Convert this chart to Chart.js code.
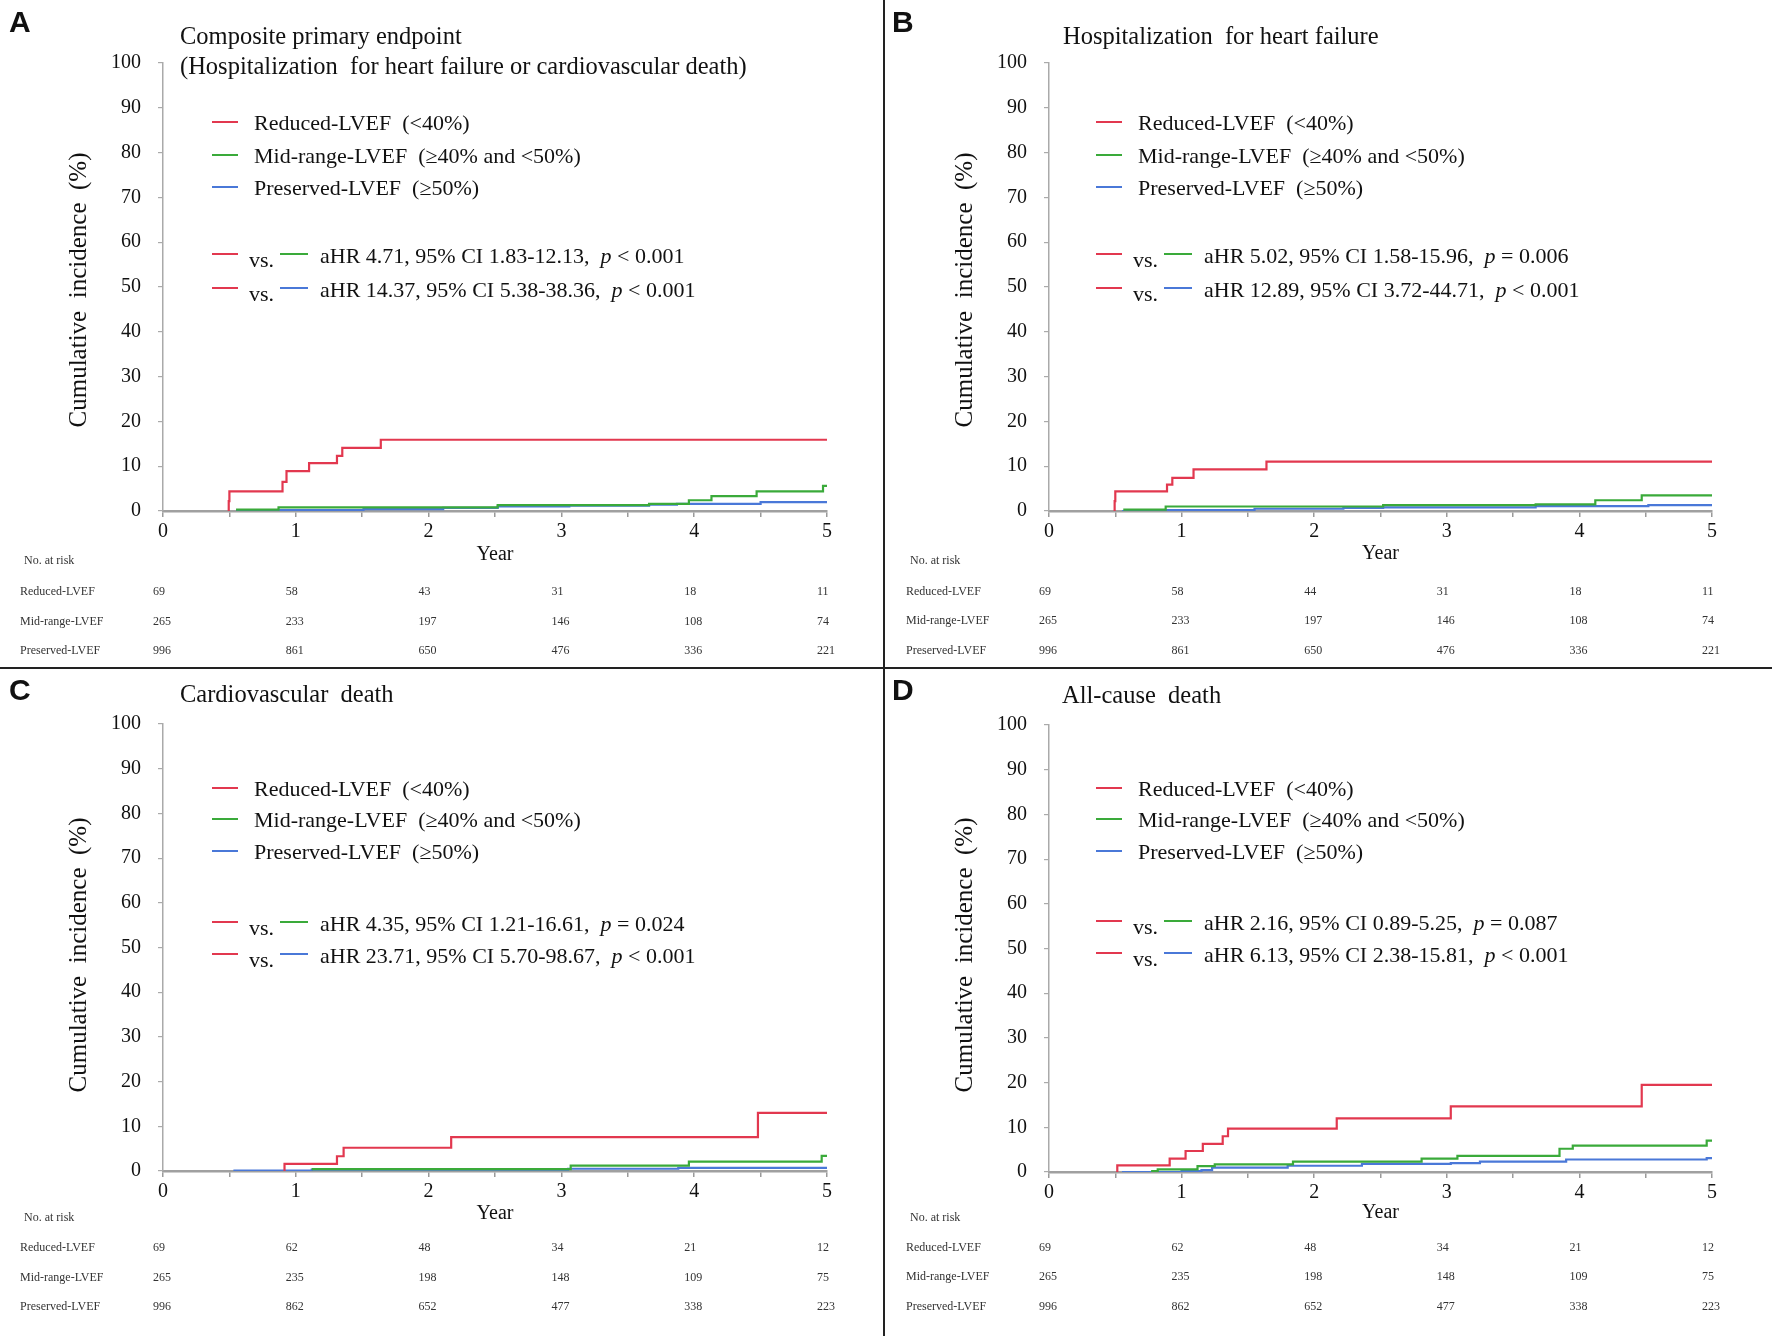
<!DOCTYPE html>
<html>
<head>
<meta charset="utf-8">
<script src="https://cdn.jsdelivr.net/npm/chart.js@4"></script>
<style>
  body { margin: 0; background: #fff; }
  #page { position: relative; width: 1772px; height: 1336px; background: #fff; overflow: hidden; }
  canvas { position: absolute; }
  .vline { position: absolute; left: 883px; top: 0; width: 2px; height: 1336px; background: #222; }
  .hline { position: absolute; left: 0; top: 667px; width: 1772px; height: 2px; background: #222; }
</style>
</head>
<body>
<div id="page">
  <canvas id="chartA" width="886" height="668" style="left:0;top:0"></canvas>
  <canvas id="chartB" width="886" height="668" style="left:886px;top:0"></canvas>
  <canvas id="chartC" width="886" height="668" style="left:0;top:668px"></canvas>
  <canvas id="chartD" width="886" height="668" style="left:886px;top:668px"></canvas>
  <div class="vline"></div>
  <div class="hline"></div>
</div>
<script>
// curve data: event times (years) and cumulative incidence (%)
const aRedT  = [0.49, 0.495, 0.50, 0.90, 0.93, 1.10, 1.31, 1.35, 1.64, 5.0];
const aRedY  = [0, 2.2, 4.4, 6.5, 8.9, 10.7, 12.3, 14.1, 15.9, 15.9];
const aMidT  = [0.55, 0.87, 2.52, 3.66, 3.96, 4.13, 4.47, 4.97, 5.0];
const aMidY  = [0.3, 0.8, 1.3, 1.6, 2.4, 3.3, 4.4, 5.6, 5.6];
const aPresT = [0.55, 0.73, 1.51, 2.11, 2.52, 3.06, 3.66, 3.87, 4.50, 5.0];
const aPresY = [0, 0.2, 0.4, 0.7, 1.0, 1.2, 1.4, 1.6, 2.0, 2.0];

const bRedT  = [0.49, 0.495, 0.50, 0.89, 0.93, 1.09, 1.64, 5.0];
const bRedY  = [0, 2.2, 4.4, 5.9, 7.4, 9.3, 11.0, 11.0];
const bMidT  = [0.56, 0.88, 2.52, 3.67, 4.12, 4.47, 5.0];
const bMidY  = [0.3, 1.0, 1.3, 1.5, 2.4, 3.5, 3.5];
const bPresT = [0.55, 0.88, 1.55, 2.22, 2.52, 3.67, 4.52, 5.0];
const bPresY = [0, 0.2, 0.5, 0.7, 0.8, 1.1, 1.3, 1.3];

const cRedT  = [0.91, 0.915, 1.31, 1.36, 2.17, 4.48, 5.0];
const cRedY  = [0, 1.6, 3.3, 5.2, 7.6, 13.0, 13.0];
const cMidT  = [1.12, 3.07, 3.96, 4.96, 5.0];
const cMidY  = [0.4, 1.2, 2.1, 3.4, 3.4];
const cPresT = [0.53, 1.12, 3.05, 3.88, 5.0];
const cPresY = [0.1, 0.3, 0.5, 0.7, 0.7];

const dRedT  = [0.51, 0.515, 0.91, 1.03, 1.16, 1.31, 1.35, 2.17, 3.03, 4.47, 5.0];
const dRedY  = [0, 1.5, 3.0, 4.7, 6.3, 8.0, 9.7, 12.0, 14.7, 19.5, 19.5];
const dMidT  = [0.77, 0.82, 1.12, 1.25, 1.84, 2.81, 3.08, 3.85, 3.95, 4.96, 5.0];
const dMidY  = [0.2, 0.6, 1.3, 1.7, 2.3, 3.0, 3.6, 5.2, 5.9, 7.0, 7.0];
const dPresT = [0.55, 1.0, 1.15, 1.23, 1.80, 2.36, 3.03, 3.25, 3.90, 4.96, 5.0];
const dPresY = [0, 0.2, 0.4, 1.0, 1.4, 1.8, 2.0, 2.3, 2.8, 3.1, 3.1];

// number at risk
const riskYears   = [0, 1, 2, 3, 4, 5];
const riskGroups  = ['Reduced-LVEF', 'Mid-range-LVEF', 'Preserved-LVEF'];
const aRiskRed    = [69, 58, 43, 31, 18, 11];
const bRiskRed    = [69, 58, 44, 31, 18, 11];
const abRiskMid   = [265, 233, 197, 146, 108, 74];
const abRiskPres  = [996, 861, 650, 476, 336, 221];
const cdRiskRed   = [69, 62, 48, 34, 21, 12];
const cdRiskMid   = [265, 235, 198, 148, 109, 75];
const cdRiskPres  = [996, 862, 652, 477, 338, 223];

// labels
const legendLabels = ['Reduced-LVEF  (<40%)', 'Mid-range-LVEF  (\u226540% and <50%)', 'Preserved-LVEF  (\u226550%)'];
const aHR = [['aHR 4.71, 95% CI 1.83-12.13,  ', ' < 0.001'], ['aHR 14.37, 95% CI 5.38-38.36,  ', ' < 0.001']];
const bHR = [['aHR 5.02, 95% CI 1.58-15.96,  ', ' = 0.006'], ['aHR 12.89, 95% CI 3.72-44.71,  ', ' < 0.001']];
const cHR = [['aHR 4.35, 95% CI 1.21-16.61,  ', ' = 0.024'], ['aHR 23.71, 95% CI 5.70-98.67,  ', ' < 0.001']];
const dHR = [['aHR 2.16, 95% CI 0.89-5.25,  ', ' = 0.087'], ['aHR 6.13, 95% CI 2.38-15.81,  ', ' < 0.001']];

const RED = '#e2384f', GREEN = '#3aaa3a', BLUE = '#4a78d8';
const SERIF = '"Liberation Serif", "Times New Roman", serif';
const W = 886, H = 668;

function pts(ts, ys) {
  return ts.map((t, i) => ({ x: t, y: ys[i] }));
}

// draws titles, legend, HR lines, axis titles and risk table
const decor = {
  id: 'decor',
  afterDraw(chart, args, o) {
    const ctx = chart.ctx;
    const area = chart.chartArea;
    ctx.save();
    ctx.fillStyle = '#111';

    // panel letter
    ctx.font = 'bold 30px "Liberation Sans", Arial, sans-serif';
    ctx.textBaseline = 'alphabetic';
    ctx.fillText(o.letter, o.letterX, 32);
    ctx.textBaseline = 'middle';

    // title
    ctx.font = '24.5px ' + SERIF;
    o.title.forEach((t, i) => ctx.fillText(t, o.titleX, o.titleY[i]));

    // legend
    ctx.font = '22px ' + SERIF;
    const cols = [RED, GREEN, BLUE];
    legendLabels.forEach((lab, i) => {
      const y = o.legendY[i];
      ctx.strokeStyle = cols[i];
      ctx.lineWidth = 2;
      ctx.beginPath();
      ctx.moveTo(o.legX, y - 2);
      ctx.lineTo(o.legX + 26, y - 2);
      ctx.stroke();
      ctx.fillText(lab, o.legX + 42, y);
    });

    // hazard ratio lines
    o.hr.forEach((h, i) => {
      const y = o.hrY[i];
      ctx.lineWidth = 2;
      ctx.strokeStyle = RED;
      ctx.beginPath(); ctx.moveTo(o.legX, y - 3); ctx.lineTo(o.legX + 26, y - 3); ctx.stroke();
      ctx.font = '22px ' + SERIF;
      ctx.fillText('vs.', o.legX + 37, y + 4);
      ctx.strokeStyle = i === 0 ? GREEN : BLUE;
      ctx.beginPath(); ctx.moveTo(o.legX + 68, y - 3); ctx.lineTo(o.legX + 96, y - 3); ctx.stroke();
      let x = o.legX + 108;
      ctx.fillText(h[0], x, y);
      x += ctx.measureText(h[0]).width;
      ctx.font = 'italic 22px ' + SERIF;
      ctx.fillText('p', x, y);
      x += ctx.measureText('p').width;
      ctx.font = '22px ' + SERIF;
      ctx.fillText(h[1], x, y);
    });

    // y axis title
    ctx.save();
    ctx.font = '25px ' + SERIF;
    ctx.translate(79, o.yTitleY);
    ctx.rotate(-Math.PI / 2);
    ctx.textAlign = 'center';
    ctx.fillText('Cumulative  incidence  (%)', 0, 0);
    ctx.restore();

    // x axis title
    ctx.font = '20px ' + SERIF;
    ctx.textAlign = 'center';
    ctx.fillText('Year', (area.left + area.right) / 2, o.yearY);

    // risk table
    ctx.textAlign = 'left';
    ctx.font = '12px ' + SERIF;
    ctx.fillStyle = '#333';
    ctx.fillText('No. at risk', 24, o.riskY[0]);
    const xs = chart.scales.x;
    o.risk.forEach((row, r) => {
      const y = o.riskY[r + 1];
      ctx.fillText(riskGroups[r], 20, y);
      row.forEach((v, j) => ctx.fillText(String(v), xs.getPixelForValue(riskYears[j]) - 10, y));
    });
    ctx.restore();
  }
};

function makeChart(id, series, box, extra) {
  const xAxisH = 40;
  return new Chart(document.getElementById(id), {
    type: 'line',
    data: {
      datasets: [
        { data: pts(series[0], series[1]), borderColor: RED, borderWidth: 2.2, stepped: true, pointRadius: 0, fill: false },
        { data: pts(series[2], series[3]), borderColor: GREEN, borderWidth: 2.2, stepped: true, pointRadius: 0, fill: false },
        { data: pts(series[4], series[5]), borderColor: BLUE, borderWidth: 2.2, stepped: true, pointRadius: 0, fill: false }
      ]
    },
    options: {
      responsive: false,
      animation: false,
      layout: { padding: { left: 0, top: box.top, right: W - box.right, bottom: H - box.bottom - xAxisH } },
      plugins: { legend: { display: false }, tooltip: { enabled: false }, decor: extra },
      scales: {
        x: {
          type: 'linear', min: 0, max: 5,
          afterFit: s => { s.height = xAxisH; },
          ticks: {
            stepSize: 0.5, autoSkip: false, maxRotation: 0, padding: 3,
            color: '#111', font: { family: SERIF, size: 20 },
            callback: v => Number.isInteger(v) ? String(v) : ''
          },
          grid: { drawOnChartArea: false, tickLength: 6, color: '#9a9a9a', lineWidth: 1.5 },
          border: { color: '#a0a0a0', width: 2.5 }
        },
        y: {
          min: 0, max: 100,
          afterFit: s => { s.width = box.left; },
          ticks: { stepSize: 10, padding: 17, color: '#111', font: { family: SERIF, size: 20 } },
          grid: { drawOnChartArea: false, tickLength: 5, color: '#aaa', lineWidth: 1.2 },
          border: { color: '#aaa', width: 1.5 }
        }
      }
    },
    plugins: [decor]
  });
}

makeChart('chartA', [aRedT, aRedY, aMidT, aMidY, aPresT, aPresY],
  { left: 163, right: 827, top: 63, bottom: 511 },
  { letter: 'A', letterX: 9, title: ['Composite primary endpoint', '(Hospitalization  for heart failure or cardiovascular death)'],
    titleX: 180, titleY: [38, 68], legX: 212, legendY: [124, 157, 189], hr: aHR, hrY: [257, 291],
    yTitleY: 290, yearY: 555, riskY: [561, 592, 622, 651], risk: [aRiskRed, abRiskMid, abRiskPres] });

makeChart('chartB', [bRedT, bRedY, bMidT, bMidY, bPresT, bPresY],
  { left: 163, right: 826, top: 63, bottom: 511 },
  { letter: 'B', letterX: 6, title: ['Hospitalization  for heart failure'],
    titleX: 177, titleY: [38], legX: 210, legendY: [124, 157, 189], hr: bHR, hrY: [257, 291],
    yTitleY: 290, yearY: 554, riskY: [561, 592, 621, 651], risk: [bRiskRed, abRiskMid, abRiskPres] });

makeChart('chartC', [cRedT, cRedY, cMidT, cMidY, cPresT, cPresY],
  { left: 163, right: 827, top: 56, bottom: 503 },
  { letter: 'C', letterX: 9, title: ['Cardiovascular  death'],
    titleX: 180, titleY: [28], legX: 212, legendY: [122, 153, 185], hr: cHR, hrY: [257, 289],
    yTitleY: 287, yearY: 546, riskY: [550, 580, 610, 639], risk: [cdRiskRed, cdRiskMid, cdRiskPres] });

makeChart('chartD', [dRedT, dRedY, dMidT, dMidY, dPresT, dPresY],
  { left: 163, right: 826, top: 57, bottom: 504 },
  { letter: 'D', letterX: 6, title: ['All-cause  death'],
    titleX: 176, titleY: [29], legX: 210, legendY: [122, 153, 185], hr: dHR, hrY: [256, 288],
    yTitleY: 287, yearY: 545, riskY: [550, 580, 609, 639], risk: [cdRiskRed, cdRiskMid, cdRiskPres] });
</script>
</body>
</html>
